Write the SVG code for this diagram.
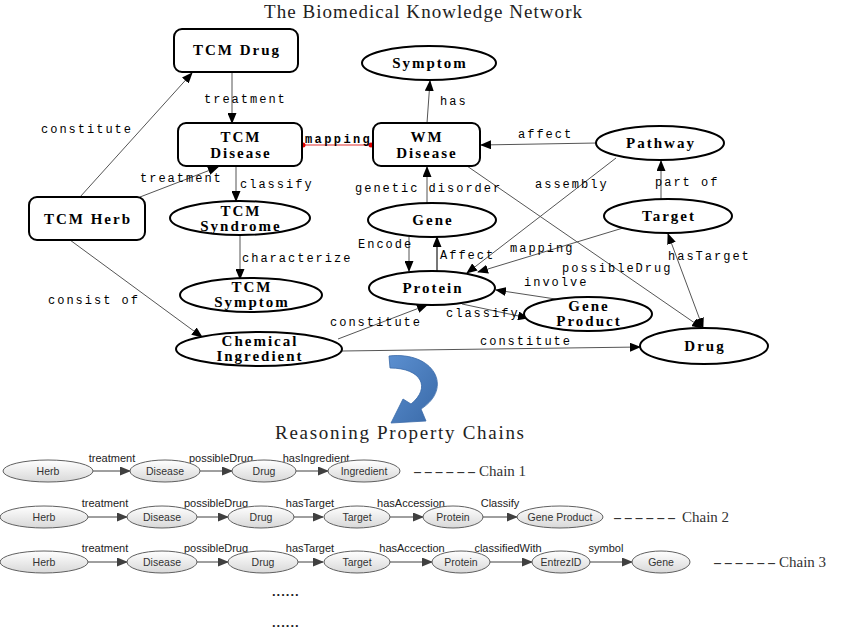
<svg xmlns="http://www.w3.org/2000/svg" width="844" height="632" viewBox="0 0 844 632">
<defs>
<marker id="ah" markerUnits="userSpaceOnUse" markerWidth="11" markerHeight="9" refX="10" refY="4.5" orient="auto-start-reverse" viewBox="0 0 11 9"><path d="M0,0 L11,4.5 L0,9 z" fill="#000"/></marker>
<marker id="ch" markerUnits="userSpaceOnUse" markerWidth="11" markerHeight="9" refX="10" refY="4.5" orient="auto" viewBox="0 0 11 9"><path d="M0,0 L11,4.5 L0,9 z" fill="#404040"/></marker>
<linearGradient id="eg" x1="0" y1="0" x2="0" y2="1"><stop offset="0" stop-color="#ffffff"/><stop offset="1" stop-color="#d8d8d8"/></linearGradient>
<linearGradient id="bg" x1="0" y1="0" x2="1" y2="1"><stop offset="0" stop-color="#5b8fd0"/><stop offset="1" stop-color="#3a6aa8"/></linearGradient>
</defs>
<style>
.nd{fill:#fff;stroke:#000;stroke-width:2}
.nt{font-family:"Liberation Serif",serif;font-weight:bold;font-size:15px;letter-spacing:2px;text-anchor:middle;fill:#000}
.el{font-family:"Liberation Mono",monospace;font-size:12px;letter-spacing:2px;fill:#000}
.e{stroke:#555;stroke-width:1;fill:none;marker-end:url(#ah)}
.cn{fill:url(#eg);stroke:#606060;stroke-width:1}
.ct{font-family:"Liberation Sans",sans-serif;font-size:10.5px;text-anchor:middle;fill:#333}
.cl{font-family:"Liberation Sans",sans-serif;font-size:11px;text-anchor:middle;fill:#222}
.ce{stroke:#404040;stroke-width:1;fill:none;marker-end:url(#ch)}
.ttl{font-family:"Liberation Serif",serif;font-size:19px;fill:#222}
.chn{font-family:"Liberation Serif",serif;font-size:15px;fill:#333}
.dash{font-family:"Liberation Serif",serif;font-size:15px;letter-spacing:1px;fill:#333}
.dots{font-family:"Liberation Sans",sans-serif;font-size:13px;font-weight:bold;letter-spacing:1px;fill:#222}
</style>
<rect width="844" height="632" fill="#fff"/>
<text class="ttl" x="264" y="18" textLength="318" lengthAdjust="spacing">The Biomedical Knowledge Network</text>

<g id="connectors">
<line class="e" x1="232" y1="72" x2="232" y2="123"/>
<line class="e" x1="80" y1="197" x2="192" y2="73"/>
<line class="e" x1="140" y1="197" x2="218" y2="167"/>
<line class="e" x1="236" y1="166" x2="236" y2="201"/>
<line class="e" x1="240" y1="236" x2="240" y2="279"/>
<line class="e" x1="70" y1="240" x2="202" y2="337"/>
<line x1="303" y1="145" x2="371" y2="145" stroke="#e03030" stroke-width="1"/>
<circle cx="303" cy="145" r="2.5" fill="#e00000"/>
<circle cx="371" cy="145" r="2.5" fill="#e00000"/>
<line class="e" x1="427" y1="123" x2="430" y2="81"/>
<line class="e" x1="597" y1="143" x2="481" y2="145"/>
<line class="e" x1="427" y1="203" x2="427" y2="167"/>
<line class="e" x1="467" y1="166" x2="702" y2="328"/>
<line class="e" x1="616" y1="158" x2="467" y2="273"/>
<line class="e" x1="661" y1="199" x2="661" y2="161"/>
<line class="e" x1="623" y1="228" x2="478" y2="272"/>
<line class="e" x1="668" y1="234" x2="703" y2="328" marker-start="url(#ah)"/>
<line class="e" x1="409" y1="237" x2="409" y2="271"/>
<line class="e" x1="437" y1="271" x2="437" y2="237" style="stroke:#777;stroke-width:2"/>
<line class="e" x1="562" y1="300" x2="496" y2="290"/>
<line class="e" x1="462" y1="304" x2="528" y2="318"/>
<line class="e" x1="338" y1="339" x2="427" y2="305"/>
<line class="e" x1="342" y1="351" x2="640" y2="347"/>

<text class="el" x="204" y="103">treatment</text>
<text class="el" x="41" y="133">constitute</text>
<text class="el" x="140" y="182">treatment</text>
<text class="el" x="240" y="188">classify</text>
<text class="el" x="242" y="262">characterize</text>
<text class="el" x="48" y="304">consist of</text>
<text class="el" x="305" y="143" style="font-weight:bold;letter-spacing:2.4px">mapping</text>
<text class="el" x="440" y="105">has</text>
<text class="el" x="518" y="138">affect</text>
<text class="el" x="355" y="192">genetic disorder</text>
<text class="el" x="535" y="188">assembly</text>
<text class="el" x="655" y="186">part of</text>
<text class="el" x="358" y="248">Encode</text>
<text class="el" x="440" y="259">Affect</text>
<text class="el" x="510" y="252">mapping</text>
<text class="el" x="562" y="272">possibleDrug</text>
<text class="el" x="668" y="260">hasTarget</text>
<text class="el" x="524" y="286">involve</text>
<text class="el" x="446" y="317">classify</text>
<text class="el" x="330" y="326">constitute</text>
<text class="el" x="480" y="345">constitute</text>
</g>

<g id="tcm-drug"><rect class="nd" x="174" y="29" width="124" height="43" rx="8"/><text class="nt" x="237" y="55">TCM Drug</text></g>
<g id="tcm-disease"><rect class="nd" x="178" y="123" width="124" height="43" rx="8"/><text class="nt" x="241" y="142">TCM</text><text class="nt" x="241" y="158">Disease</text></g>
<g id="tcm-herb"><rect class="nd" x="29" y="197" width="116" height="43" rx="8"/><text class="nt" x="88" y="224">TCM Herb</text></g>
<g id="tcm-syndrome"><ellipse class="nd" cx="240" cy="218" rx="70" ry="17"/><text class="nt" x="241" y="216">TCM</text><text class="nt" x="241" y="231">Syndrome</text></g>
<g id="tcm-symptom"><ellipse class="nd" cx="251" cy="295" rx="71" ry="17"/><text class="nt" x="252" y="292">TCM</text><text class="nt" x="252" y="307">Symptom</text></g>
<g id="chemical-ingredient"><ellipse class="nd" cx="259" cy="349" rx="83" ry="17"/><text class="nt" x="260" y="346">Chemical</text><text class="nt" x="260" y="361">Ingredient</text></g>
<g id="symptom"><ellipse class="nd" cx="429" cy="63" rx="67" ry="17"/><text class="nt" x="430" y="68">Symptom</text></g>
<g id="wm-disease"><rect class="nd" x="373" y="123" width="107" height="43" rx="8"/><text class="nt" x="427" y="142">WM</text><text class="nt" x="427" y="158">Disease</text></g>
<g id="pathway"><ellipse class="nd" cx="660" cy="143" rx="64" ry="17"/><text class="nt" x="661" y="148">Pathway</text></g>
<g id="gene"><ellipse class="nd" cx="432" cy="220" rx="64" ry="17"/><text class="nt" x="433" y="225">Gene</text></g>
<g id="target"><ellipse class="nd" cx="668" cy="216" rx="64" ry="17"/><text class="nt" x="669" y="221">Target</text></g>
<g id="protein"><ellipse class="nd" cx="432" cy="288" rx="63" ry="17"/><text class="nt" x="433" y="293">Protein</text></g>
<g id="gene-product"><ellipse class="nd" cx="588" cy="314" rx="64" ry="17"/><text class="nt" x="589" y="311">Gene</text><text class="nt" x="589" y="326">Product</text></g>
<g id="drug"><ellipse class="nd" cx="704" cy="346" rx="64" ry="18"/><text class="nt" x="705" y="351">Drug</text></g>

<g id="blue-arrow"><path d="M389,356 C434,351 454,388 421,409 L426,421 L391,423 L403,399 L411,404 C431,388 422,368 390,368 Z" fill="url(#bg)" stroke="#3a6aa8" stroke-width="0.8"/></g>

<text class="ttl" x="275" y="439" textLength="249" lengthAdjust="spacing">Reasoning Property Chains</text>

<g id="chain1">
<line class="ce" x1="93" y1="471" x2="130" y2="471"/>
<line class="ce" x1="200" y1="471" x2="232" y2="471"/>
<line class="ce" x1="296" y1="471" x2="328" y2="471"/>
<text class="cl" x="112" y="462">treatment</text>
<text class="cl" x="221" y="462">possibleDrug</text>
<text class="cl" x="316" y="462">hasIngredient</text>
<ellipse class="cn" cx="48" cy="471" rx="45" ry="11"/><text class="ct" x="48" y="475">Herb</text>
<ellipse class="cn" cx="165" cy="471" rx="35" ry="11"/><text class="ct" x="165" y="475">Disease</text>
<ellipse class="cn" cx="264" cy="471" rx="32" ry="11"/><text class="ct" x="264" y="475">Drug</text>
<ellipse class="cn" cx="364" cy="471" rx="36" ry="11"/><text class="ct" x="364" y="475">Ingredient</text>
<text class="dash" transform="translate(413,476) scale(1.8,1)">------</text>
<text class="chn" x="479" y="476">Chain 1</text>
</g>

<g id="chain2">
<line class="ce" x1="88" y1="517" x2="127" y2="517"/>
<line class="ce" x1="197" y1="517" x2="228" y2="517"/>
<line class="ce" x1="293" y1="517" x2="323" y2="517"/>
<line class="ce" x1="390" y1="517" x2="423" y2="517"/>
<line class="ce" x1="482" y1="517" x2="517" y2="517"/>
<text class="cl" x="105" y="507">treatment</text>
<text class="cl" x="216" y="507">possibleDrug</text>
<text class="cl" x="310" y="507">hasTarget</text>
<text class="cl" x="411" y="507">hasAccession</text>
<text class="cl" x="500" y="507">Classify</text>
<ellipse class="cn" cx="44" cy="517" rx="44" ry="11"/><text class="ct" x="44" y="521">Herb</text>
<ellipse class="cn" cx="162" cy="517" rx="35" ry="11"/><text class="ct" x="162" y="521">Disease</text>
<ellipse class="cn" cx="261" cy="517" rx="33" ry="11"/><text class="ct" x="261" y="521">Drug</text>
<ellipse class="cn" cx="357" cy="517" rx="33" ry="11"/><text class="ct" x="357" y="521">Target</text>
<ellipse class="cn" cx="453" cy="517" rx="30" ry="11"/><text class="ct" x="453" y="521">Protein</text>
<ellipse class="cn" cx="560" cy="517" rx="43" ry="11"/><text class="ct" x="560" y="521">Gene Product</text>
<text class="dash" transform="translate(613,522) scale(1.8,1)">------</text>
<text class="chn" x="682" y="522">Chain 2</text>
</g>

<g id="chain3">
<line class="ce" x1="88" y1="562" x2="127" y2="562"/>
<line class="ce" x1="197" y1="562" x2="228" y2="562"/>
<line class="ce" x1="298" y1="562" x2="323" y2="562"/>
<line class="ce" x1="390" y1="562" x2="432" y2="562"/>
<line class="ce" x1="490" y1="562" x2="532" y2="562"/>
<line class="ce" x1="590" y1="562" x2="632" y2="562"/>
<text class="cl" x="105" y="552">treatment</text>
<text class="cl" x="216" y="552">possibleDrug</text>
<text class="cl" x="310" y="552">hasTarget</text>
<text class="cl" x="412" y="552">hasAccection</text>
<text class="cl" x="508" y="552">classifiedWith</text>
<text class="cl" x="606" y="552">symbol</text>
<ellipse class="cn" cx="44" cy="562" rx="44" ry="11"/><text class="ct" x="44" y="566">Herb</text>
<ellipse class="cn" cx="162" cy="562" rx="35" ry="11"/><text class="ct" x="162" y="566">Disease</text>
<ellipse class="cn" cx="263" cy="562" rx="35" ry="11"/><text class="ct" x="263" y="566">Drug</text>
<ellipse class="cn" cx="357" cy="562" rx="33" ry="11"/><text class="ct" x="357" y="566">Target</text>
<ellipse class="cn" cx="461" cy="562" rx="29" ry="11"/><text class="ct" x="461" y="566">Protein</text>
<ellipse class="cn" cx="561" cy="562" rx="29" ry="11"/><text class="ct" x="561" y="566">EntrezID</text>
<ellipse class="cn" cx="661" cy="562" rx="29" ry="11"/><text class="ct" x="661" y="566">Gene</text>
<text class="dash" transform="translate(713,567) scale(1.8,1)">------</text>
<text class="chn" x="779" y="567">Chain 3</text>
</g>

<text class="dots" x="272" y="596">......</text>
<text class="dots" x="272" y="627">......</text>
</svg>
